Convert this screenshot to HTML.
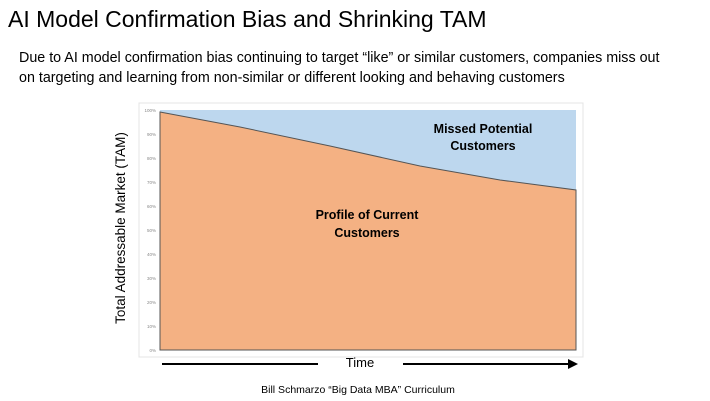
<!DOCTYPE html>
<html><head><meta charset="utf-8"><style>
body{margin:0;width:710px;height:401px;background:#fff;font-family:"Liberation Sans",sans-serif;overflow:hidden;position:relative}
.t{position:absolute;white-space:nowrap;color:#000}
</style></head><body>
<div class="t" style="left:8px;top:6px;font-size:23px">AI Model Confirmation Bias and Shrinking TAM</div>
<div class="t" style="left:19px;top:48px;font-size:14.3px;line-height:20px">Due to AI model confirmation bias continuing to target “like” or similar customers, companies miss out<br>on targeting and learning from non-similar or different looking and behaving customers</div>
<svg width="710" height="401" style="position:absolute;left:0;top:0" font-family="Liberation Sans, sans-serif">
<rect x="139" y="103" width="444" height="254" fill="#fff" stroke="#e4e4e4"/>
<rect x="160" y="110" width="416" height="240" fill="#bdd7ee"/>
<polygon points="160,112 240,127 330,146 420,166 500,180 576,190 576,350 160,350" fill="#f4b183" stroke="#555" stroke-width="1"/>
<g font-size="4.5" fill="#888" text-anchor="end">
<text x="156" y="112">100%</text><text x="156" y="136">90%</text><text x="156" y="160">80%</text><text x="156" y="184">70%</text><text x="156" y="208">60%</text><text x="156" y="232">50%</text><text x="156" y="256">40%</text><text x="156" y="280">30%</text><text x="156" y="304">20%</text><text x="156" y="328">10%</text><text x="156" y="352">0%</text>
</g>
<g font-size="12.5" font-weight="bold" text-anchor="middle">
<text x="483" y="133">Missed Potential</text><text x="483" y="150">Customers</text>
<text x="367" y="219">Profile of Current</text><text x="367" y="237">Customers</text>
</g>
<text transform="translate(125,228) rotate(-90)" font-size="13.5" text-anchor="middle">Total Addressable Market (TAM)</text>
<line x1="162" y1="364" x2="318" y2="364" stroke="#000" stroke-width="2"/>
<line x1="403" y1="364" x2="570" y2="364" stroke="#000" stroke-width="2"/>
<polygon points="568,359 578,364 568,369" fill="#000"/>
<text x="360" y="367" font-size="13" text-anchor="middle">Time</text>
<text x="358" y="393" font-size="10.5" text-anchor="middle">Bill Schmarzo “Big Data MBA” Curriculum</text>
</svg>
</body></html>
